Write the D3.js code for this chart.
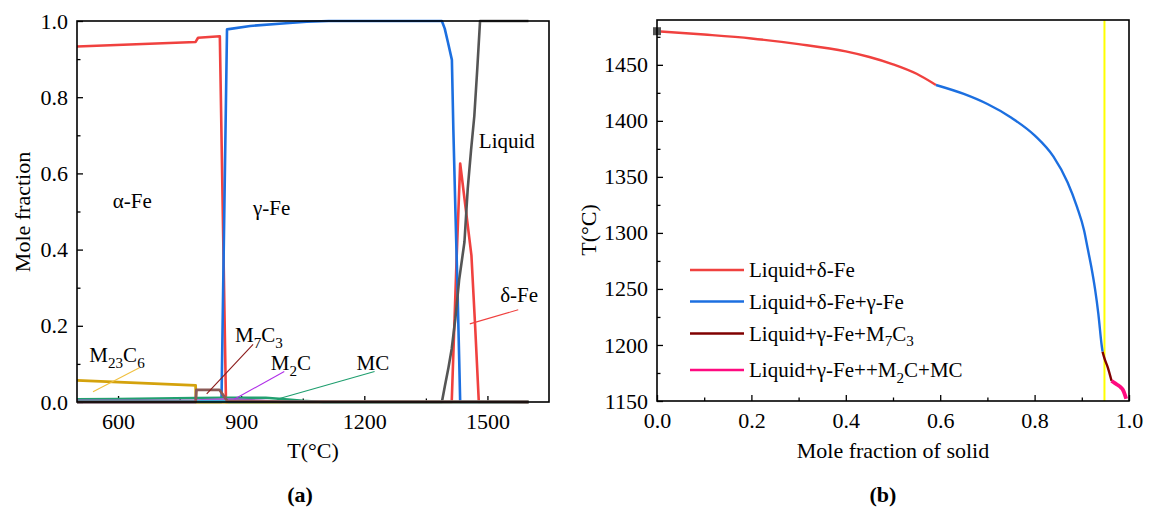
<!DOCTYPE html>
<html>
<head>
<meta charset="utf-8">
<script src="https://cdn.jsdelivr.net/npm/d3@7"></script>
<style>
body { margin: 0; background: #fff; }
svg, svg text { font-family: 'Liberation Serif', 'Times New Roman', serif; }
</style>
</head>
<body>
<svg id="chart" width="1153" height="512"></svg>
<script>
// ---- (a) phase fractions vs temperature : [T, mole fraction]
var alphaDeltaFe = [[500,0.933],[789,0.945],[795,0.956],[848,0.96],[863,0],[1413,0],[1425,0.38],[1433.6,0.626],[1461,0.385],[1470,0.2],[1479,0],[1600,0]];
var gammaFe = [[500,0],[852,0],[865.5,0.978],[922,0.987],[1009,0.994],[1060,0.998],[1113,1],[1389,1],[1396,0.98],[1403.6,0.945],[1413.4,0.898],[1417,0.714],[1422,0.5],[1427,0.3],[1431,0.12],[1433.6,0],[1600,0]];
var liquid = [[500,0],[1389,0],[1396,0.04],[1405,0.09],[1413,0.14],[1422,0.22],[1431,0.32],[1444,0.42],[1452,0.56],[1460,0.66],[1468,0.75],[1475,0.87],[1482,1],[1600,1]];
var m23c6 = [[500,0.0565],[789,0.0435],[790,0],[1600,0]];
var mc = [[500,0.007],[600,0.008],[789,0.0105],[860,0.011],[960,0.011],[1000,0.008],[1050,0.003],[1100,0],[1600,0]];
var m2c = [[500,0.003],[790,0.004],[860,0.007],[900,0.006],[950,0.003],[1000,0],[1600,0]];
var otherPhase = [[500,0.0015],[860,0.0015],[870,0],[1600,0]];
var m7c3 = [[500,0],[789,0],[791,0.032],[847,0.032],[866,0.003],[1000,0.001],[1600,0]];

var xTicksA = [600, 900, 1200, 1500];
var xMinorA = [750, 1050, 1350];
var yTicksA = [0, 0.2, 0.4, 0.6, 0.8, 1.0];
var yMinorA = [0.1, 0.3, 0.5, 0.7, 0.9];

// ---- (b) solidification path : [fraction of solid, T]
var solLiqDelta = [[0,1480],[0.1,1477],[0.2,1473.5],[0.3,1468.5],[0.4,1462],[0.45,1457],[0.5,1450.5],[0.55,1442],[0.591,1432]];
var solLiqDeltaGamma = [[0.591,1432],[0.65,1424],[0.7,1415],[0.75,1403],[0.8,1387],[0.84,1368],[0.87,1345],[0.89,1323],[0.905,1302],[0.9125,1286],[0.92,1270],[0.928,1250],[0.935,1228],[0.942,1200],[0.944,1194]];
var solLiqGammaM7C3 = [[0.944,1194],[0.948,1188],[0.955,1180],[0.963,1168]];
var solLiqGammaM2CMC = [[0.963,1168],[0.97,1166],[0.977,1164],[0.983,1162],[0.987,1160],[0.991,1156],[0.994,1152]];
var eutecticFs = 0.948;
var startPoint = [0, 1480];

var xTicksB = [0, 0.2, 0.4, 0.6, 0.8, 1.0];
var xMinorB = [0.1, 0.3, 0.5, 0.7, 0.9];
var yTicksB = [1150, 1200, 1250, 1300, 1350, 1400, 1450];
var yMinorB = [1175, 1225, 1275, 1325, 1375, 1425, 1475];

var FONT = "'Liberation Serif', 'Times New Roman', serif";
var svg = d3.select("#chart");

// text with subscripts: parts = [[text, isSub], ...]
function richText(g, x, y, parts, size, anchor) {
    var t = g.append("text").attr("x", x).attr("y", y).attr("font-size", size)
        .attr("font-family", FONT)
        .attr("text-anchor", anchor || "start").attr("fill", "#000");
    var down = false;
    parts.forEach(function(p) {
        var s = t.append("tspan").text(p[0]);
        if (p[1] && !down) { s.attr("dy", size * 0.28).attr("font-size", size * 0.72); down = true; }
        else if (p[1]) { s.attr("font-size", size * 0.72); }
        else if (down) { s.attr("dy", -size * 0.28); down = false; }
    });
    return t;
}

function drawAxes(x, y, xt, xm, yt, ym, fmtX, fmtY) {
    var b = y.range()[0], l = x.range()[0];
    var gx = svg.append("g").attr("transform", "translate(0," + b + ")")
        .call(d3.axisBottom(x).tickValues(xt).tickFormat(fmtX).tickSize(-6).tickPadding(11));
    svg.append("g").attr("transform", "translate(0," + b + ")")
        .call(d3.axisBottom(x).tickValues(xm).tickFormat("").tickSize(-3.5));
    var gy = svg.append("g").attr("transform", "translate(" + l + ",0)")
        .call(d3.axisLeft(y).tickValues(yt).tickFormat(fmtY).tickSize(-6).tickPadding(9));
    svg.append("g").attr("transform", "translate(" + l + ",0)")
        .call(d3.axisLeft(y).tickValues(ym).tickFormat("").tickSize(-3.5));
    svg.selectAll(".domain").remove();
    svg.selectAll(".tick line").attr("stroke", "#000").attr("stroke-width", 1.3);
    [gx, gy].forEach(function(g) {
        g.attr("font-family", FONT);
        g.selectAll("text").attr("font-size", 22).attr("fill", "#000").attr("font-family", FONT);
    });
}

function frame(x, y) {
    svg.append("rect")
        .attr("x", x.range()[0]).attr("y", y.range()[1])
        .attr("width", x.range()[1] - x.range()[0])
        .attr("height", y.range()[0] - y.range()[1])
        .attr("fill", "none").attr("stroke", "#000").attr("stroke-width", 1.6);
}

function label(x, y, txt, size, opts) {
    var t = svg.append("text").attr("x", x).attr("y", y).attr("text-anchor", "middle")
        .attr("font-size", size).attr("font-family", FONT).text(txt);
    if (opts && opts.bold) t.attr("font-weight", "bold");
    if (opts && opts.rotate) t.attr("x", null).attr("y", null)
        .attr("transform", "translate(" + x + "," + y + ") rotate(-90)");
    return t;
}

// ================= (a) =================
var xa = d3.scaleLinear().domain([500, 1650]).range([77, 549]);
var ya = d3.scaleLinear().domain([0, 1]).range([402, 21]);
var lineA = d3.line().x(function(d) { return xa(d[0]); }).y(function(d) { return ya(d[1]); });

drawAxes(xa, ya, xTicksA, xMinorA, yTicksA, yMinorA, d3.format("d"), d3.format(".1f"));

var seriesA = [
    [alphaDeltaFe, "#f0413f", 2.6],
    [gammaFe, "#1c6fe0", 2.6],
    [liquid, "#555555", 2.6],
    [m23c6, "#d4a20c", 2.8],
    [mc, "#22a070", 2.6],
    [m2c, "#a860d8", 2.6],
    [otherPhase, "#20c0d0", 2.4],
    [m7c3, "#8b5a57", 2.8]
];
seriesA.forEach(function(s) {
    svg.append("path").datum(s[0]).attr("d", lineA)
        .attr("fill", "none").attr("stroke", s[1]).attr("stroke-width", s[2])
        .attr("stroke-linejoin", "round");
});
frame(xa, ya);

// leader lines [T1, f1, T2, f2, colour]
var leadersA = [
    [539, 0.027, 652, 0.09, "#f0c040"],
    [816, 0.021, 929, 0.151, "#8b1a1a"],
    [883, 0.007, 1005, 0.08, "#b030e8"],
    [987, 0.007, 1225, 0.08, "#1e9e6e"],
    [1457, 0.205, 1575, 0.242, "#f0413f"]
];
leadersA.forEach(function(d) {
    svg.append("line").attr("x1", xa(d[0])).attr("y1", ya(d[1]))
        .attr("x2", xa(d[2])).attr("y2", ya(d[3]))
        .attr("stroke", d[4]).attr("stroke-width", 1.1);
});

var labelsA = [
    [587, 0.509, [["α-Fe"]]],
    [929, 0.491, [["γ-Fe"]]],
    [1479, 0.666, [["Liquid"]]],
    [1531, 0.262, [["δ-Fe"]]],
    [530, 0.104, [["M"], ["23", 1], ["C"], ["6", 1]]],
    [885, 0.158, [["M"], ["7", 1], ["C"], ["3", 1]]],
    [972, 0.084, [["M"], ["2", 1], ["C"]]],
    [1181, 0.084, [["MC"]]]
];
labelsA.forEach(function(d) { richText(svg, xa(d[0]), ya(d[1]), d[2], 21); });

label(313, 458, "T(°C)", 22);
label(30, 212, "Mole fraction", 22, { rotate: true });
label(300, 502, "(a)", 22, { bold: true });

// ================= (b) =================
var xb = d3.scaleLinear().domain([0, 1]).range([657, 1129]);
var yb = d3.scaleLinear().domain([1150, 1490]).range([401, 20]);
var lineB = d3.line().x(function(d) { return xb(d[0]); }).y(function(d) { return yb(d[1]); })
    .curve(d3.curveMonotoneX);

drawAxes(xb, yb, xTicksB, xMinorB, yTicksB, yMinorB, d3.format(".1f"), d3.format("d"));

svg.append("line").attr("x1", xb(eutecticFs)).attr("x2", xb(eutecticFs))
    .attr("y1", yb.range()[0]).attr("y2", yb.range()[1])
    .attr("stroke", "#ffff00").attr("stroke-width", 2);

var seriesB = [
    [solLiqDelta, "#f0413f", 2.4, [["Liquid+δ-Fe"]]],
    [solLiqDeltaGamma, "#1c6fe0", 2.4, [["Liquid+δ-Fe+γ-Fe"]]],
    [solLiqGammaM7C3, "#800000", 2.4, [["Liquid+γ-Fe+M"], ["7", 1], ["C"], ["3", 1]]],
    [solLiqGammaM2CMC, "#ff0a80", 3.8, [["Liquid+γ-Fe++M"], ["2", 1], ["C+MC"]]]
];
seriesB.forEach(function(s) {
    svg.append("path").datum(s[0]).attr("d", lineB)
        .attr("fill", "none").attr("stroke", s[1]).attr("stroke-width", s[2])
        .attr("stroke-linecap", "butt");
});

svg.append("rect").attr("x", xb(startPoint[0]) - 4).attr("y", yb(startPoint[1]) - 4)
    .attr("width", 8).attr("height", 8).attr("fill", "#555");

frame(xb, yb);

// legend
var legendY = [270, 301.5, 333.5, 370];
seriesB.forEach(function(s, i) {
    svg.append("line").attr("x1", 690).attr("x2", 744)
        .attr("y1", legendY[i]).attr("y2", legendY[i])
        .attr("stroke", s[1]).attr("stroke-width", 2.4);
    richText(svg, 749, legendY[i] + 7, s[3], 21);
});

label(893, 458, "Mole fraction of solid", 22);
label(596, 230, "T(°C)", 22, { rotate: true });
label(883, 502, "(b)", 22, { bold: true });
</script>
</body>
</html>
